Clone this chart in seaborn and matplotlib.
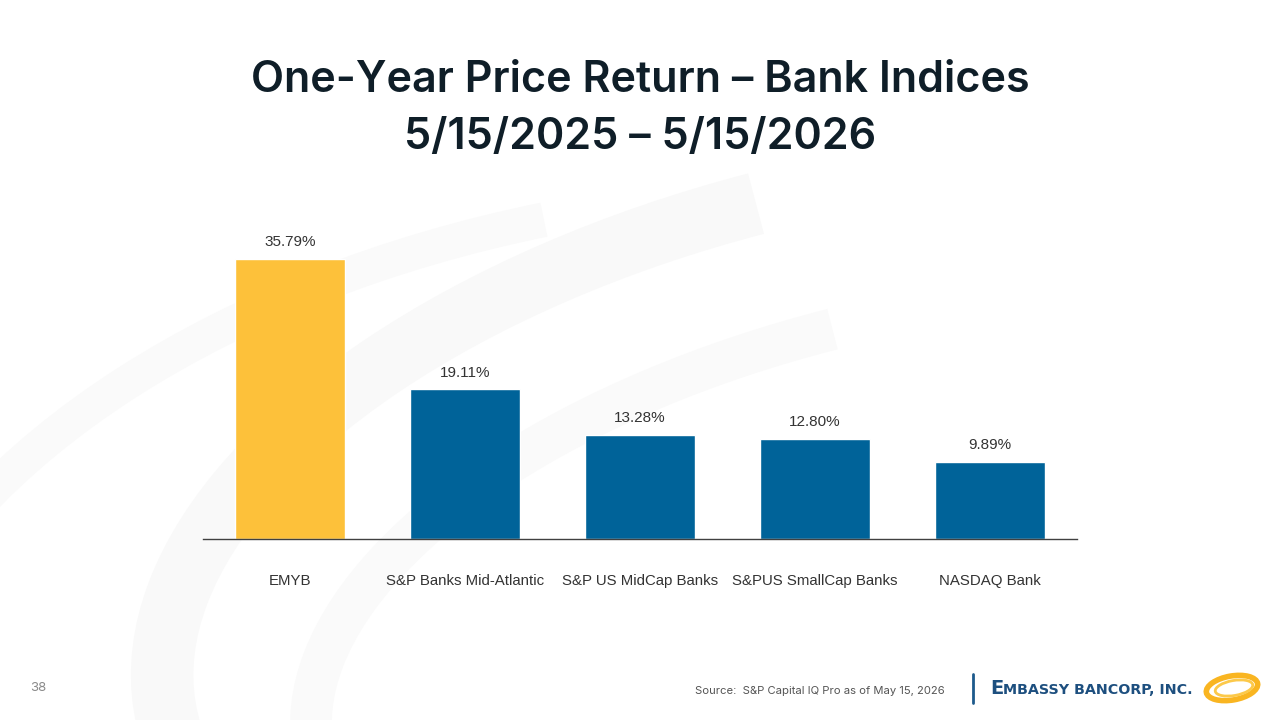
import matplotlib
matplotlib.use("Agg")
import matplotlib.pyplot as plt
import seaborn as sns
import pandas as pd
from matplotlib.patches import Ellipse, Arc

categories = ["EMYB", "S&P Banks Mid-Atlantic", "S&P US MidCap Banks", "S&PUS SmallCap Banks", "NASDAQ Bank"]
values = [35.79, 19.11, 13.28, 12.80, 9.89]
labels = ["35.79%", "19.11%", "13.28%", "12.80%", "9.89%"]
bar_colors = ["#FDC13A", "#006399", "#006399", "#006399", "#006399"]

sns.set_style("white")
plt.rcParams['font.family'] = ['Inter', 'DejaVu Sans']

fig = plt.figure(figsize=(12.8, 7.2), dpi=100)
fig.patch.set_facecolor("white")

# faint background swooshes
bg = fig.add_axes([0, 0, 1, 1], zorder=-10)
bg.set_xlim(0, 1280); bg.set_ylim(720, 0); bg.axis("off")
for (cx, cy, w, h, ang, lw, col) in [
    (900, 560, 1500, 760, -12, 45, "#f9f9f9"),
    (950, 620, 1300, 620, -12, 30, "#fafafa"),
    (700, 700, 1700, 1000, -8, 25, "#fafafa"),
]:
    bg.add_patch(Arc((cx, cy), w, h, angle=ang, theta1=150, theta2=260, lw=lw, color=col))

ax = fig.add_axes([203/1280, 1-539/720, 874/1280, 313/720])
df = pd.DataFrame({"cat": categories, "val": values})
sns.barplot(data=df, x="cat", y="val", hue="cat", palette=bar_colors, legend=False,
            width=0.63, saturation=1, ax=ax)
ax.set_xlim(-0.5, 4.5)
ax.set_ylim(0, 40)
ax.patch.set_alpha(0)
for s in ["top", "right", "left"]:
    ax.spines[s].set_visible(False)
ax.spines["bottom"].set_color("#404040")
ax.spines["bottom"].set_linewidth(1.0)
ax.set_yticks([])
ax.set_xlabel(""); ax.set_ylabel("")
ax.tick_params(axis="x", length=0, pad=25, labelsize=10.8, labelcolor="#333333")
for lab in ax.get_xticklabels():
    lab.set_family(["Liberation Sans", "DejaVu Sans"])
for i, (v, t) in enumerate(zip(values, labels)):
    ax.annotate(t, (i, v), xytext=(0, 7), textcoords="offset points", ha="center", va="bottom",
                fontsize=11, color="#333333", family=["Liberation Sans", "DejaVu Sans"])

fig.text(0.5, 1-80/720, "One-Year Price Return – Bank Indices", ha="center", va="center",
         fontsize=31, fontweight="semibold", color="#0f1e28")
fig.text(0.5, 1-137/720, "5/15/2025 – 5/15/2026", ha="center", va="center",
         fontsize=31, fontweight="semibold", color="#0f1e28")

fig.text(38/1280, 1-688/720, "38", ha="center", va="center", fontsize=9.5, color="#8a8a8a")
fig.text(695/1280, 1-691/720, "Source:  S&P Capital IQ Pro as of May 15, 2026", ha="left", va="center",
         fontsize=8.1, color="#555555")

# logo
bg.plot([973, 973], [674, 703], color="#1d5a8c", lw=2)
bg.text(990, 689, "E", fontsize=14, fontweight="bold", color="#1d4f7f", va="center", ha="left",
        family=["DejaVu Sans"])
bg.text(1003, 690, "MBASSY BANCORP, INC.", fontsize=10.3, fontweight="bold", color="#1d4f7f",
        va="center", ha="left", family=["DejaVu Sans"])
bg.add_patch(Ellipse((1232, 688), 52, 24, angle=-10, fill=False, lw=4, color="#F9B521"))
bg.add_patch(Ellipse((1234, 688), 38, 15, angle=-10, fill=False, lw=2, color="#FCC94A"))

fig.savefig("out.png", dpi=100)
